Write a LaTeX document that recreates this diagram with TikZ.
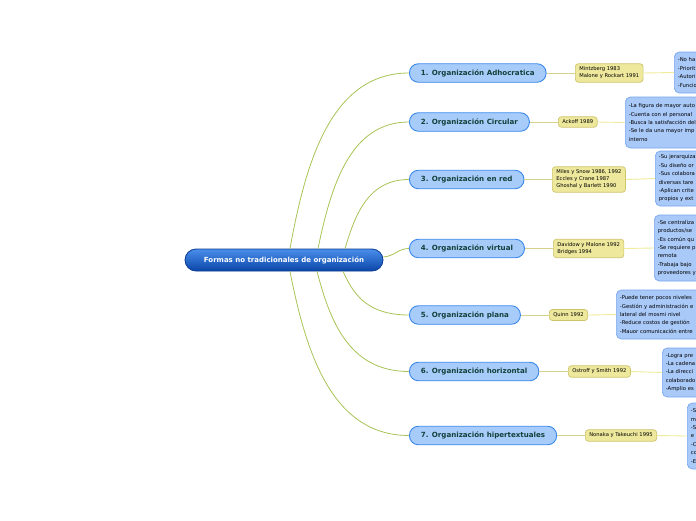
\documentclass[tikz,border=0pt]{standalone}
\usepackage{fontspec}
\setmainfont{DejaVu Sans}
\definecolor{rootA}{HTML}{4A8EEA}
\definecolor{rootB}{HTML}{0A46A8}
\definecolor{rootE}{HTML}{0A3C92}
\definecolor{brF}{HTML}{A8CCFA}
\definecolor{brE}{HTML}{3A88EE}
\definecolor{brT}{HTML}{12403A}
\definecolor{auF}{HTML}{EEE89C}
\definecolor{auE}{HTML}{CEC46A}
\definecolor{dsF}{HTML}{A9C9F8}
\definecolor{dsE}{HTML}{78A6EE}
\definecolor{lnA}{HTML}{A9C456}
\definecolor{lnB}{HTML}{D6D28C}
\definecolor{lnC}{HTML}{F1EC9C}
\tikzset{
  rootbox/.style={draw=rootE, line width=0.8pt, top color=rootA, bottom color=rootB,
    rounded corners=11pt, minimum width=198pt, minimum height=22pt, inner sep=0pt,
    text=white, font=\fontsize{7}{8}\selectfont\bfseries},
  branch/.style={draw=brE, line width=0.9pt, fill=brF, rounded corners=9pt,
    minimum height=18.5pt, inner xsep=11.5pt, inner ysep=0pt, anchor=west,
    text=brT, font=\fontsize{7.1}{8}\selectfont\bfseries},
  author/.style={draw=auE, line width=0.7pt, fill=auF, rounded corners=3pt,
    inner xsep=4pt, inner ysep=3.2pt, anchor=west, align=left,
    font=\fontsize{5.2}{7}\selectfont},
  desc/.style={draw=dsE, line width=0.7pt, fill=dsF, rounded corners=5pt,
    inner xsep=3.5pt, inner ysep=2pt, anchor=west, align=left, text width=110pt,
    font=\fontsize{5.3}{8.4}\selectfont},
  rootline/.style={draw=lnA, line width=0.8pt},
  midline/.style={draw=lnB, line width=0.9pt},
  endline/.style={draw=lnC, line width=0.9pt}
}
\begin{document}
\begin{tikzpicture}[x=1pt,y=-1pt]
\useasboundingbox (0,0) rectangle (696,520);
\clip (0,0) rectangle (696,520);
\fill[white] (0,0) rectangle (696,520);

\node[rootbox] (root) at (284,260) {Formas no tradicionales de organización};

\node[branch] (b1) at (409,73) {1. Organización Adhocratica};
\node[branch] (b2) at (409,122) {2. Organización Circular};
\node[branch] (b3) at (409,179.5) {3. Organización en red};
\node[branch] (b4) at (409,248.5) {4. Organización virtual};
\node[branch] (b5) at (409,315) {5. Organización plana};
\node[branch] (b6) at (409,371.5) {6. Organización horizontal};
\node[branch] (b7) at (409,435.5) {7. Organización hipertextuales};

\node[author] (a1) at (575,73) {Mintzberg 1983\\Malone y Rockart 1991};
\node[author] (a2) at (558,122) {Ackoff 1989};
\node[author] (a3) at (552,179.5) {Miles y Snow 1986, 1992\\Eccles y Crane 1987\\Ghoshal y Barlett 1990};
\node[author] (a4) at (553,248.5) {Davidow y Malone 1992\\Bridges 1994};
\node[author] (a5) at (549,315) {Quinn 1992};
\node[author] (a6) at (568,371.5) {Ostroff y Smith 1992};
\node[author] (a7) at (585,435.5) {Nonaka y Takeuchi 1995};

\node[desc, minimum height=41pt] (d1) at (674,72.5) {-No ha\\-Priorit\\-Autori\\-Funcio};
\node[desc, minimum height=51pt] (d2) at (625,122.5) {-La figura de mayor auto\\-Cuenta con el personal\\-Busca la satisfacción del\\-Se le da una mayor imp\\interno};
\node[desc, minimum height=55pt] (d3) at (655,178.5) {-Su jerarquiza\\-Su diseño or\\-Sus colabora\\diversas tare\\-Aplican crite\\propios y ext};
\node[desc, minimum height=66pt] (d4) at (654,248) {-Se centraliza\\productos/se\\-Es común qu\\-Se requiere p\\remota\\-Trabaja bajo\\proveedores y};
\node[desc, minimum height=49pt] (d5) at (616,314.5) {-Puede tener pocos niveles\\-Gestión y administración e\\lateral del mosmi nivel\\-Reduce costos de gestión\\-Mauor comunicación entre};
\node[desc, minimum height=49pt] (d6) at (662,372.5) {-Logra pre\\-La cadena\\-La direcci\\colaborado\\-Amplio es};
\node[desc, minimum height=66pt] (d7) at (687,436) {-S\\m\\-S\\e\\-C\\co\\-E};

% root to branches
\draw[rootline] ([xshift=6pt]root.north) .. controls (306,160) and (332,73) .. (b1.west);
\draw[rootline] ([xshift=34pt]root.north) .. controls (331,186) and (350,122) .. (b2.west);
\draw[rootline] ([xshift=61pt]root.north) .. controls (355,215) and (368,179.5) .. (b3.west);
\draw[rootline] ([yshift=3pt]root.east) .. controls (395,256) and (398,248.5) .. (b4.west);
\draw[rootline] ([xshift=59pt]root.south) .. controls (353,293) and (366,315) .. (b5.west);
\draw[rootline] ([xshift=33pt]root.south) .. controls (330,321) and (349,371.5) .. (b6.west);
\draw[rootline] ([xshift=6pt]root.south) .. controls (306,353) and (332,435.5) .. (b7.west);

% branch to author to description
\foreach \i in {1,...,7}{
  \draw[midline] (b\i.east) -- (a\i.west);
  \draw[endline] (a\i.east) -- (d\i.west);
}
\end{tikzpicture}
\end{document}
